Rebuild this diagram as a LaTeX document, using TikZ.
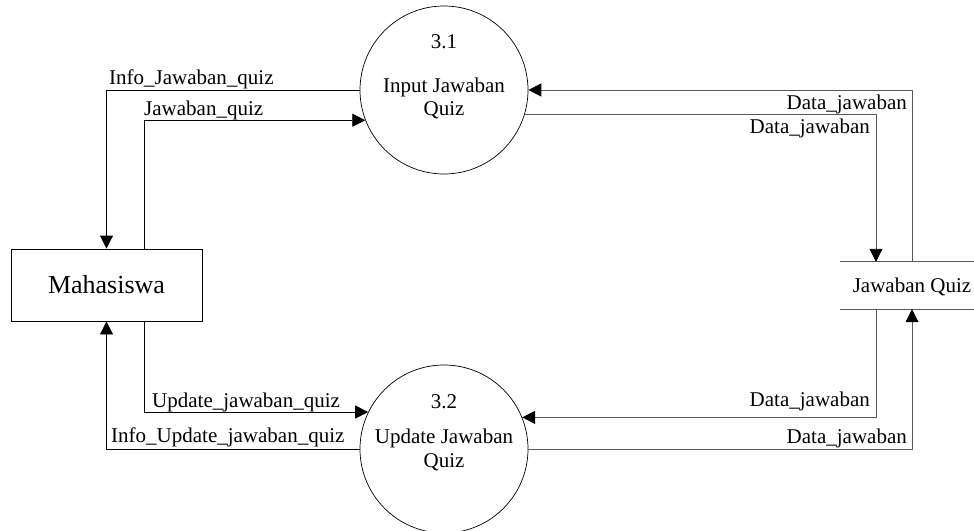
\documentclass[tikz,border=0pt]{standalone}
\usepackage{fontspec}
\setmainfont{Liberation Serif}
\usetikzlibrary{arrows.meta}
\begin{document}
\begin{tikzpicture}[x=1pt,y=-1pt,
  arr/.style={draw=black, line width=0.9pt, -{Triangle[length=13pt,width=13pt]}},
  garr/.style={draw=black!65, line width=0.9pt, -{Triangle[length=13pt,width=13pt,color=black]}},
  gline/.style={draw=black!65, line width=0.9pt},
  proc/.style={circle, draw=black, line width=0.7pt, minimum size=168pt, inner sep=0pt},
  ent/.style={rectangle, draw=black, line width=0.9pt, minimum width=191pt, minimum height=72pt, inner sep=0pt},
  store/.style={rectangle, minimum width=134pt, minimum height=47pt, inner sep=0pt},
  lbl/.style={font=\fontsize{21}{23}\selectfont, inner sep=0pt},
  big/.style={font=\fontsize{26}{28}\selectfont, inner sep=0pt}]
\useasboundingbox (0,0) rectangle (974,530);

% nodes
\node[proc] (c1) at (444,90) {};
\node[proc] (c2) at (444,449) {};
\node[ent] (m) at (106.5,285) {};
\node[big, anchor=base] (mt) at (106.5,293) {Mahasiswa};
\node[store] (s) at (907,285.5) {};
\draw[gline] (s.north west) -- (s.north east);
\draw[gline] (s.south west) -- (s.south east);
\node[lbl, anchor=base] (st) at (912,292) {Jawaban Quiz};

% circle texts
\node[lbl, anchor=base] (n1) at (444,48) {3.1};
\node[lbl, anchor=base] (t1a) at (444,92) {Input Jawaban};
\node[lbl, anchor=base] (t1b) at (444,115) {Quiz};
\node[lbl, anchor=base] (n2) at (444,408) {3.2};
\node[lbl, anchor=base] (t2a) at (444,443) {Update Jawaban};
\node[lbl, anchor=base] (t2b) at (444,467) {Quiz};

% connectors left
\draw[arr] (c1.180) -| (m.north);
\draw[arr] ([xshift=37.5pt]m.north) |- (c1.201.7);
\draw[arr] ([xshift=37.5pt]m.south) |- (c2.154.6);
\draw[arr] (c2.180) -| (m.south);

% connectors right
\draw[garr] ([xshift=5pt]s.north) |- (c1.0);
\draw[garr] (c1.343.4) -| ([xshift=-31pt]s.north);
\draw[garr] ([xshift=-31pt]s.south) |- (c2.22.4);
\draw[garr] (c2.0) -| ([xshift=5pt]s.south);

% labels
\node[lbl, anchor=base west] (l1) at (109,84) {Info\_Jawaban\_quiz};
\node[lbl, anchor=base west] (l2) at (144,115) {Jawaban\_quiz};
\node[lbl, anchor=base west] (l3) at (152,407) {Update\_jawaban\_quiz};
\node[lbl, anchor=base west] (l4) at (111,442) {Info\_Update\_jawaban\_quiz};
\node[lbl, anchor=base east] (r1) at (907,109) {Data\_jawaban};
\node[lbl, anchor=base east] (r2) at (870,133) {Data\_jawaban};
\node[lbl, anchor=base east] (r3) at (870,406) {Data\_jawaban};
\node[lbl, anchor=base east] (r4) at (907,443) {Data\_jawaban};
\end{tikzpicture}
\end{document}
